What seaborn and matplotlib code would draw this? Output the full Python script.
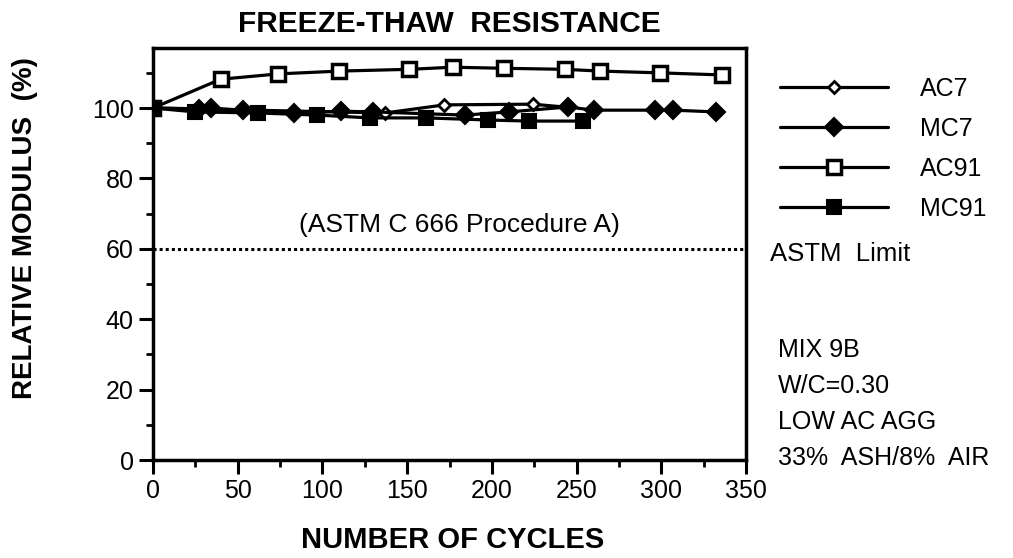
import matplotlib
matplotlib.use("Agg")
import matplotlib.pyplot as plt
from matplotlib.ticker import MultipleLocator
import seaborn as sns
import pandas as pd

# Freeze-thaw test results: relative dynamic modulus (%) vs. number of cycles
ac7_cycles = [0, 137, 172, 224, 245]
ac7_modulus = [100, 98.6, 100.9, 101.1, 100.2]

mc7_cycles = [0, 27, 34, 53, 83, 111, 130, 184, 210, 245, 260, 296, 307, 332]
mc7_modulus = [100, 99.8, 100, 99.4, 98.6, 99.1, 98.9, 98.0, 98.9, 100.3, 99.4, 99.4, 99.4, 98.9]

ac91_cycles = [0, 40, 74, 110, 151, 177, 207, 243, 264, 299, 336]
ac91_modulus = [100, 108.2, 109.7, 110.5, 111.0, 111.6, 111.3, 111.0, 110.5, 110.0, 109.4]

mc91_cycles = [0, 25, 62, 97, 128, 161, 198, 222, 254]
mc91_modulus = [100, 98.9, 98.6, 98.0, 97.2, 97.2, 96.6, 96.3, 96.3]

astm_limit = 60

x_ticks = [0, 50, 100, 150, 200, 250, 300, 350]
y_ticks = [0, 20, 40, 60, 80, 100]

sns.set_theme(style="ticks")
plt.rcParams["font.family"] = ["Liberation Sans", "DejaVu Sans"]

fig = plt.figure(figsize=(10.13, 5.58), dpi=100)
ax = fig.add_axes([0.151, 0.1756, 0.5855, 0.738])

series = [
    ("AC7", ac7_cycles, ac7_modulus, dict(marker="D", markersize=6.5, markerfacecolor="white", markeredgewidth=2.0)),
    ("MC7", mc7_cycles, mc7_modulus, dict(marker="D", markersize=9.5, markerfacecolor="black", markeredgewidth=1.5)),
    ("AC91", ac91_cycles, ac91_modulus, dict(marker="s", markersize=10.5, markerfacecolor="white", markeredgewidth=2.5)),
    ("MC91", mc91_cycles, mc91_modulus, dict(marker="s", markersize=10, markerfacecolor="black", markeredgewidth=1.5)),
]

for name, xs, ys, style in series:
    df = pd.DataFrame({"cycles": xs, "modulus": ys})
    sns.lineplot(data=df, x="cycles", y="modulus", ax=ax, color="black",
                 linewidth=2.3, markeredgecolor="black", label=name, **style)

ax.axhline(astm_limit, color="black", linestyle=(0, (1, 1)), linewidth=2.2)

ax.set_xlim(0, 350)
ax.set_ylim(0, 117)
ax.set_xticks(x_ticks)
ax.set_yticks(y_ticks)
ax.xaxis.set_minor_locator(MultipleLocator(25))
ax.yaxis.set_minor_locator(MultipleLocator(10))
ax.tick_params(axis="both", which="major", direction="out", length=10, width=2.2,
               labelsize=18, color="black", pad=4)
ax.tick_params(axis="both", which="minor", direction="out", length=5, width=2.0, color="black")
for lab in ax.get_xticklabels() + ax.get_yticklabels():
    lab.set_color("black")

for sp in ax.spines.values():
    sp.set_linewidth(2.5)
    sp.set_color("black")

ax.set_xlabel("NUMBER OF CYCLES", fontsize=21, fontweight="bold", color="black")
ax.set_ylabel("RELATIVE MODULUS  (%)", fontsize=20, fontweight="bold", color="black")
ax.xaxis.set_label_coords((453 - 153) / 593, (460 - 526) / 412)
ax.yaxis.set_label_coords((38 - 153) / 593, (460 - 228) / 412)
ax.set_title("FREEZE-THAW  RESISTANCE", fontsize=21.5, fontweight="bold", color="black", pad=12)

ax.text((459 - 153) / 593, (460 - 225) / 412, "(ASTM C 666 Procedure A)", transform=ax.transAxes,
        ha="center", va="center", fontsize=19, color="black")

leg = ax.legend(loc="upper left", bbox_to_anchor=(780 / 1013, 1 - 77 / 558),
                bbox_transform=fig.transFigure, frameon=False, fontsize=18,
                handlelength=4.3, handletextpad=1.3, labelspacing=0.64,
                borderpad=0, borderaxespad=0)
for t in leg.get_texts():
    t.set_color("black")

fig.text(770 / 1013, 1 - 254 / 558, "ASTM  Limit", fontsize=18.5, color="black",
         ha="left", va="center")

notes = ["MIX 9B", "W/C=0.30", "LOW AC AGG", "33%  ASH/8%  AIR"]
for i, line in enumerate(notes):
    fig.text(778 / 1013, 1 - (350 + i * 36) / 558, line, fontsize=18, color="black",
             ha="left", va="center")

fig.savefig("out.png", dpi=100, facecolor="white")
